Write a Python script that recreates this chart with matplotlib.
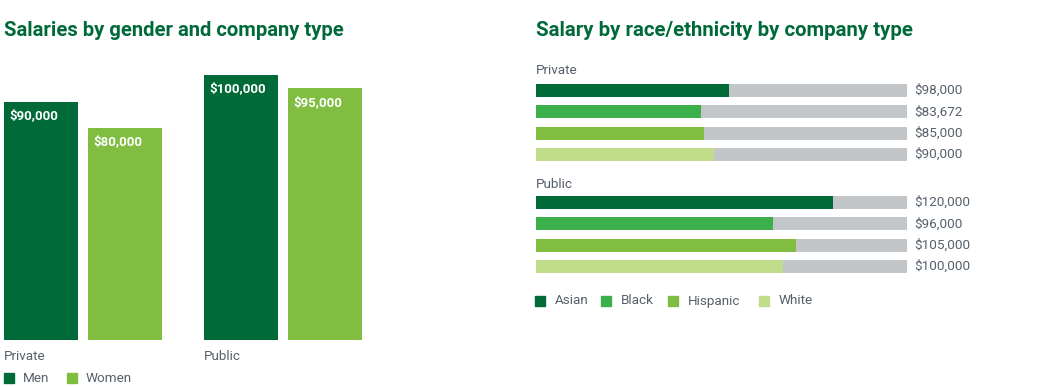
import matplotlib
matplotlib.use("Agg")
import matplotlib.pyplot as plt
from matplotlib.transforms import blended_transform_factory

# ---------------- data ----------------
company_types = ["Private", "Public"]
gender_series = ["Men", "Women"]
men_salary = [90000, 100000]
women_salary = [80000, 95000]

races = ["Asian", "Black", "Hispanic", "White"]
private_race_salary = [98000, 83672, 85000, 90000]
public_race_salary = [120000, 96000, 105000, 100000]
private_race_labels = ["$98,000", "$83,672", "$85,000", "$90,000"]
public_race_labels = ["$120,000", "$96,000", "$105,000", "$100,000"]
private_scale_max = 188000
public_scale_max = 150000

# ---------------- style ----------------
W, H = 1049, 387
DPI = 100
DARK = "#006b38"
LIGHT = "#80bd41"
MED = "#3aaf4a"
PALE = "#c1dd8a"
GRAY = "#c3c6c8"
TXT = "#56606b"
TITLE = "#00693a"
FONT = "Roboto"
race_colors = [DARK, MED, LIGHT, PALE]
gender_colors = [DARK, LIGHT]

plt.rcParams["font.family"] = [FONT, "DejaVu Sans"]

fig = plt.figure(figsize=(W / DPI, H / DPI), dpi=DPI)


def px_axes(x0, y0, x1, y1):
    """axes from pixel box (top-left origin)"""
    return fig.add_axes([x0 / W, 1 - y1 / H, (x1 - x0) / W, (y1 - y0) / H])


def ftext(x, y, s, **kw):
    fig.text(x / W, 1 - y / H, s, **kw)


def clean(ax):
    ax.set_axis_off()


# ---------------- left chart ----------------
ftext(4, 31, "Salaries by gender and company type", fontsize=14.55,
      fontweight="bold", color=TITLE, va="center", ha="left")

axL = px_axes(4, 75, 362, 340)
clean(axL)
axL.set_xlim(-0.395, 1.395)
axL.set_ylim(0, 100000)
bw = 0.37
off = 0.21
for gi, (vals, col) in enumerate(zip([men_salary, women_salary], gender_colors)):
    xs = [i + (off if gi else -off) for i in range(len(company_types))]
    bars = axL.bar(xs, vals, width=bw, color=col, linewidth=0)
    for b, v in zip(bars, vals):
        axL.annotate(f"${v:,.0f}", (b.get_x(), v), xytext=(3.6, -10),
                     textcoords="offset points", ha="left", va="center",
                     color="white", fontsize=9.5, fontweight="bold")

transL = blended_transform_factory(axL.transData, fig.transFigure)
for i, c in enumerate(company_types):
    axL.text(i - off - bw / 2, 1 - 356 / H, c, transform=transL, ha="left",
             va="center", color=TXT, fontsize=9.7)

# legend left
lx = [4, 67]
for x, name, col in zip(lx, gender_series, gender_colors):
    fig.patches.append(plt.Rectangle((x / W, 1 - 383 / H), 10 / W, 10 / H,
                                     transform=fig.transFigure, color=col))
    ftext(x + 19, 378, name, color=TXT, fontsize=9.7, va="center", ha="left")

# ---------------- right chart ----------------
ftext(536, 31, "Salary by race/ethnicity by company type", fontsize=14.7,
      fontweight="bold", color=TITLE, va="center", ha="left")

sp = 64 / 3.0
groups = [
    ("Private", private_race_salary, private_race_labels, private_scale_max, 90.5, 71),
    ("Public", public_race_salary, public_race_labels, public_scale_max, 202.5, 184),
]
for name, vals, labs, vmax, c0, ly in groups:
    ax = px_axes(536, c0 - sp / 2, 907, c0 + 3.5 * sp)
    clean(ax)
    ax.set_xlim(0, vmax)
    ax.set_ylim(len(races) - 0.5, -0.5)
    ys = list(range(len(races)))
    ax.barh(ys, [vmax] * len(races), height=0.61, color=GRAY, linewidth=0)
    ax.barh(ys, vals, height=0.61, color=race_colors, linewidth=0)
    tr = blended_transform_factory(ax.transAxes, ax.transData)
    for y, lab in zip(ys, labs):
        ax.text(1.0 + 7 / 371, y, lab, transform=tr, ha="left", va="center",
                color=TXT, fontsize=9.7)
    ftext(536, ly, name, color=TXT, fontsize=9.7, va="center", ha="left")

rx = [535, 601, 668, 759]
for x, name, col in zip(rx, races, race_colors):
    fig.patches.append(plt.Rectangle((x / W, 1 - 306 / H), 10 / W, 10 / H,
                                     transform=fig.transFigure, color=col))
    ftext(x + 19.5, 301, name, color=TXT, fontsize=9.7, va="center", ha="left")

fig.savefig("out.png", dpi=DPI, facecolor="white")
